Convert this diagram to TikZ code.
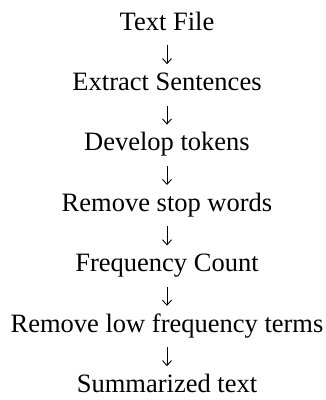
\documentclass[tikz,border=0pt]{standalone}
\usepackage{fontspec}
\setmainfont{Liberation Serif}
\usetikzlibrary{arrows.meta,positioning}

\begin{document}
\begin{tikzpicture}[x=1pt, y=1pt, node distance=41pt, stepnode/.style={inner sep=0pt, text height=17pt, text depth=2pt, font=\fontsize{26.5}{30}\selectfont}, arrow/.style={-{Straight Barb[length=5pt,width=9pt]}, line width=0.9pt, shorten <=13pt, shorten >=9pt}]
\useasboundingbox (0,0) rectangle (326,-400);
\node[stepnode, anchor=base] (file) at (167,-30) {Text File};
\node[stepnode, below=of file]  (sent)  {Extract Sentences};
\node[stepnode, below=of sent]  (tok)   {Develop tokens};
\node[stepnode, below=of tok]   (stop)  {Remove stop words};
\node[stepnode, below=of stop]  (freq)  {Frequency Count};
\node[stepnode, below=of freq]  (low)   {Remove low frequency terms};
\node[stepnode, below=of low]   (summ)  {Summarized text};
\draw[arrow](file)--(sent); \draw[arrow](sent)--(tok); \draw[arrow](tok)--(stop); \draw[arrow](stop)--(freq); \draw[arrow](freq)--(low); \draw[arrow](low)--(summ);
\end{tikzpicture}
\end{document}
